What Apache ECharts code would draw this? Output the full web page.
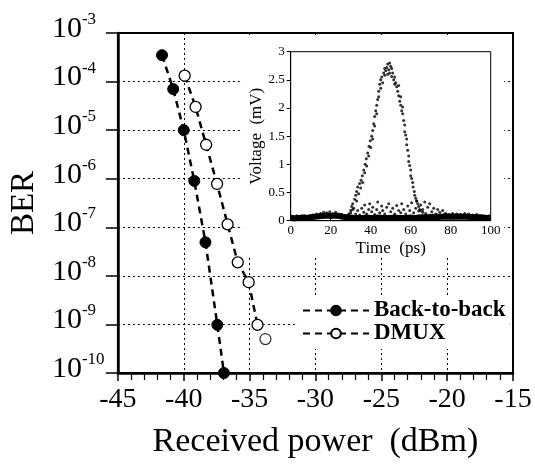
<!DOCTYPE html>
<html>
<head>
<meta charset="utf-8">
<script src="https://cdn.jsdelivr.net/npm/echarts@6/dist/echarts.min.js"></script>
<style>html,body{margin:0;padding:0;background:#fff;}#c{width:535px;height:464px;}</style>
</head>
<body>
<div id="c"></div>
<script>
// Main BER data: [received power (dBm), BER]
var backToBack = [[-41.65,3.5e-4],[-40.8,7.0e-5],[-40.0,1.0e-5],[-39.2,9.0e-7],[-38.35,4.9e-8],[-37.45,9.8e-10],[-36.95,1.0e-10]];
var dmux = [[-39.93,1.32e-4],[-39.1,3.0e-5],[-38.3,5.0e-6],[-37.47,7.8e-7],[-36.67,1.15e-7],[-35.9,1.9e-8],[-35.07,7.4e-9],[-34.4,9.8e-10],[-33.8,5.0e-10]];
var dmuxFitEnd = 8; // dashed DMUX line runs through the first 8 points

// Inset: pulse waveform [time (ps), voltage (mV)]
var pulse = [[29,0.12],[30,0.18],[30.5,0.25],[31,0.3],[31.5,0.22],[32,0.38],[32.5,0.45],[33,0.35],[33,0.52],[33.5,0.6],[34,0.48],[34.5,0.66],[35,0.58],[35.2,0.72],[35.8,0.8],[36,0.68],[36.5,0.9],[37,0.85],[37.2,1.0],[37.8,1.1],[38,0.97],[38.5,1.2],[39,1.15],[39.2,1.32],[39.8,1.42],[40,1.3],[40.5,1.5],[41,1.6],[41,1.45],[41.5,1.72],[42,1.85],[42,1.68],[42.5,1.95],[43,2.05],[43,1.9],[43.5,2.15],[44,2.2],[44,2.3],[44.5,2.42],[45,2.35],[45,2.5],[45.5,2.55],[46,2.45],[46.5,2.62],[47,2.58],[47,2.7],[47.5,2.66],[48,2.72],[48.5,2.6],[48.5,2.78],[49,2.68],[49.5,2.8],[49.5,2.62],[50,2.74],[50.5,2.7],[50.5,2.56],
[51,2.62],[51.5,2.5],[52,2.55],[52,2.42],[52.5,2.45],[53,2.38],[53.5,2.3],[54,2.4],[54,2.22],[54.5,2.12],[55,2.2],[55,2.05],[55.5,1.95],[56,1.9],[56,2.02],[56.5,1.78],[57,1.7],[57,1.58],[57.5,1.52],[58,1.45],[58,1.35],[58.5,1.25],[59,1.15],[59,1.05],[59.5,0.98],[60,0.9],[60,0.8],[60.5,0.75],[61,0.68],[61.2,0.6],[61.8,0.52],[62,0.45],[62.5,0.4],[63,0.35],[63.5,0.3],[64,0.25],[64.5,0.2],[65,0.18],[66,0.15]];
// Inset: baseline band centre
var baseline = [[0,0.05],[2,0.045],[4,0.05],[6,0.055],[8,0.05],[10,0.06],[12,0.07],[14,0.08],[16,0.085],[18,0.09],[20,0.085],[22,0.09],[24,0.085],[26,0.07],[28,0.06],[30,0.055],[32,0.05],[34,0.05],[36,0.05],[38,0.055],[40,0.05],[42,0.05],[44,0.055],[46,0.05],[48,0.05],[50,0.05],[52,0.055],[54,0.05],[56,0.05],[58,0.05],[60,0.055],[62,0.05],[64,0.055],[66,0.06],[68,0.06],[70,0.065],[72,0.06],[74,0.065],[76,0.07],[78,0.07],[80,0.075],[82,0.07],[84,0.075],[86,0.07],[88,0.07],[90,0.065],[92,0.06],[94,0.06],[96,0.055],[98,0.05],[100,0.05]];
// Inset: ragged top of the baseline band
var baseTop = [[1,0.08],[3,0.09],[5,0.07],[7,0.09],[9,0.08],[11,0.1],[13,0.12],[15,0.13],[16.5,0.15],[18,0.14],[19.5,0.16],[21,0.13],[22.5,0.15],[24,0.12],[25.5,0.11],[27,0.09],[29,0.1],[71,0.1],[73,0.11],[75,0.1],[77,0.12],[79,0.11],[81,0.13],[83,0.12],[85,0.11],[87,0.13],[89,0.12],[91,0.1],[93,0.11],[95,0.09],[97,0.08],[99,0.09]];
// Inset: noise bump under the pulse
var noise = [[30,0.14],[31,0.2],[32.5,0.12],[33.5,0.18],[34.5,0.1],[35.5,0.22],[36.5,0.15],[37,0.28],[38,0.12],[39,0.2],[39.5,0.3],[40.5,0.16],[41,0.24],[42,0.11],[43,0.2],[43.5,0.33],[44.5,0.14],[45.5,0.26],[46,0.18],[47,0.12],[48,0.24],[49,0.3],[50,0.16],[51,0.22],[52,0.12],[53,0.27],[54,0.18],[55,0.14],[55.5,0.3],[56.5,0.2],[57.5,0.12],[58.5,0.26],[59.5,0.18],[60.5,0.32],[61.5,0.14],[62.5,0.22],[63,0.35],[64,0.17],[65,0.28],[66,0.2],[67,0.33],[67.5,0.13],[68.5,0.24],[69.5,0.3],[70.5,0.16],[71.5,0.22],[72.5,0.12],[73.5,0.2],[74.5,0.15],[76,0.18],[77.5,0.13]];

var FONT = 'Liberation Serif';
var chart = echarts.init(document.getElementById('c'), null, {renderer:'canvas'});
var dotted = {type:[2,3], color:'#000', width:1};
chart.setOption({
  animation:false,
  backgroundColor:'#fff',
  textStyle:{fontFamily:FONT, color:'#000'},
  graphic:[{type:'rect', z:1, shape:{x:243, y:37, width:261, height:220}, style:{fill:'#fff'}}],
  legend:{
    orient:'vertical', left:298, top:296, padding:[3,4,4,4], itemGap:0,
    itemWidth:66, itemHeight:12, backgroundColor:'#fff',
    data:['Back-to-back','DMUX'],
    textStyle:{fontFamily:FONT, fontWeight:'bold', fontSize:23, color:'#000', lineHeight:22}
  },
  grid:[
    {left:117.5, right:22, top:33, bottom:88, show:true, borderColor:'#000', borderWidth:2, backgroundColor:'transparent'},
    {left:290.7, top:51.7, width:200, height:169, show:true, borderColor:'#000', borderWidth:1, z:6}
  ],
  xAxis:[
    {gridIndex:0, type:'value', min:-45, max:-15, interval:5,
     axisLine:{lineStyle:{color:'#000', width:2.5}},
     axisTick:{length:8, lineStyle:{color:'#000', width:1.5}},
     minorTick:{show:true, splitNumber:5, length:7, lineStyle:{color:'#000', width:1.2}},
     axisLabel:{fontFamily:FONT, fontSize:28, color:'#000', margin:13},
     splitLine:{show:true, lineStyle:dotted},
     name:'Received power  (dBm)', nameLocation:'middle', nameGap:52,
     nameTextStyle:{fontFamily:FONT, fontSize:34, color:'#000'}},
    {gridIndex:1, type:'value', min:0, max:100, interval:20, z:6,
     axisLine:{lineStyle:{color:'#000', width:1}},
     axisTick:{inside:true, length:3, lineStyle:{color:'#000'}},
     axisLabel:{fontFamily:FONT, fontSize:13, color:'#000', margin:3},
     splitLine:{show:false},
     name:'Time  (ps)', nameLocation:'middle', nameGap:19,
     nameTextStyle:{fontFamily:FONT, fontSize:17, color:'#000'}}
  ],
  yAxis:[
    {gridIndex:0, type:'log', logBase:10, min:1e-10, max:1e-3, splitNumber:7,
     axisLine:{lineStyle:{color:'#000', width:2.5}},
     axisTick:{length:12, lineStyle:{color:'#000', width:1.5}},
     axisLabel:{fontFamily:FONT, fontSize:30, color:'#000', margin:66, align:'left', lineHeight:36, padding:[0,0,8,0],
       formatter:function(v){return '10{s|' + Math.round(Math.log10(v)) + '}';},
       rich:{s:{fontFamily:FONT, fontSize:17, lineHeight:17, verticalAlign:'top', color:'#000'}}},
     splitLine:{show:true, lineStyle:dotted},
     name:'BER', nameLocation:'middle', nameGap:72, nameRotate:90,
     nameTextStyle:{fontFamily:FONT, fontSize:33, color:'#000'}},
    {gridIndex:1, type:'value', min:0, max:3, interval:0.5, z:6,
     axisLine:{lineStyle:{color:'#000', width:1}},
     axisTick:{length:4, lineStyle:{color:'#000'}},
     axisLabel:{fontFamily:FONT, fontSize:13, color:'#000', margin:6},
     splitLine:{show:false},
     name:'Voltage  (mV)', nameLocation:'middle', nameGap:23, nameRotate:90,
     nameTextStyle:{fontFamily:FONT, fontSize:17, color:'#000'}}
  ],
  series:[
    {name:'Back-to-back', type:'line', xAxisIndex:0, yAxisIndex:0, data:backToBack,
     symbol:'circle', symbolSize:11, showSymbol:true,
     itemStyle:{color:'#000', borderColor:'#000', borderWidth:1},
     lineStyle:{color:'#000', width:2.5, type:[7,5]}, z:3},
    {name:'DMUX', type:'line', xAxisIndex:0, yAxisIndex:0, data:dmux.slice(0, dmuxFitEnd),
     symbol:'circle', symbolSize:11, showSymbol:true,
     itemStyle:{color:'#fff', borderColor:'#000', borderWidth:1.3},
     lineStyle:{color:'#000', width:2.5, type:[7,5]}, z:3},
    {name:'DMUX extra', type:'scatter', xAxisIndex:0, yAxisIndex:0, data:dmux.slice(dmuxFitEnd),
     symbol:'circle', symbolSize:11,
     itemStyle:{color:'#fff', borderColor:'#000', borderWidth:1.3}, z:3},
    {type:'line', xAxisIndex:1, yAxisIndex:1, data:baseline, showSymbol:false, symbol:'none',
     lineStyle:{color:'#000', width:6}, z:7},
    {type:'scatter', xAxisIndex:1, yAxisIndex:1, data:baseTop, symbolSize:3, itemStyle:{color:'#000'}, z:7},
    {type:'scatter', xAxisIndex:1, yAxisIndex:1, data:noise, symbolSize:3, itemStyle:{color:'#000'}, z:7},
    {type:'scatter', xAxisIndex:1, yAxisIndex:1, data:pulse, symbolSize:3, itemStyle:{color:'#000'}, z:7}
  ]
});
</script>
</body>
</html>
